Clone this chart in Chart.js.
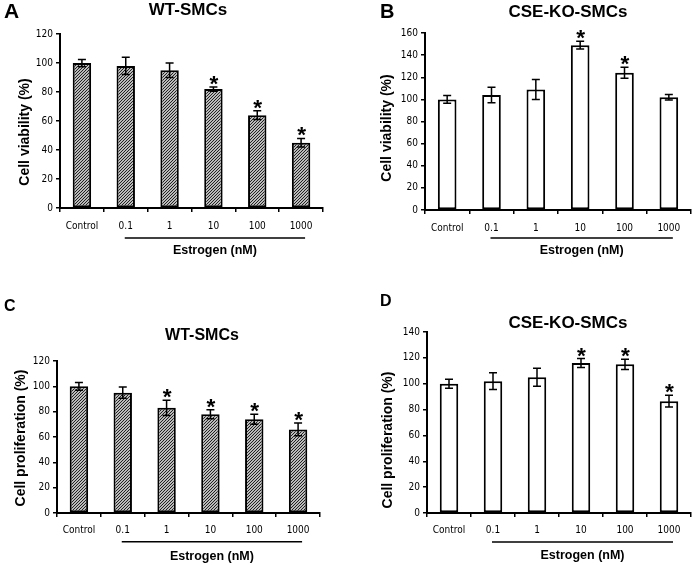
<!DOCTYPE html>
<html><head><meta charset="utf-8">
<script src="https://cdn.jsdelivr.net/npm/chart.js@4"></script>
<style>
html,body{margin:0;padding:0;background:#fff;}
#wrap{position:relative;width:696px;height:565px;overflow:hidden;background:#fff;}
canvas{position:absolute;}
</style></head><body>
<div id="wrap">
<canvas id="cA" width="348" height="280" style="left:0;top:0"></canvas>
<canvas id="cB" width="348" height="280" style="left:348px;top:0"></canvas>
<canvas id="cC" width="348" height="285" style="left:0;top:280px"></canvas>
<canvas id="cD" width="348" height="285" style="left:348px;top:280px"></canvas>
</div>
<script>
// ---- data ----
const categories = ['Control', '0.1', '1', '10', '100', '1000'];

const viabilityWT      = [100, 98, 95, 82, 64, 45];
const viabilityWTErr   = [2.5, 6, 5, 1.5, 3, 3];
const viabilityWTSig   = [false, false, false, true, true, true];

const viabilityKO      = [100, 104, 109, 149, 124, 102];
const viabilityKOErr   = [3.5, 7, 9, 3.5, 5, 2.5];
const viabilityKOSig   = [false, false, false, true, true, false];

const prolifWT         = [100, 95, 83, 78, 74, 66];
const prolifWTErr      = [3, 4.5, 6, 3.5, 4, 5];
const prolifWTSig      = [false, false, true, true, true, true];

const prolifKO         = [100, 102, 105, 116, 115, 86.5];
const prolifKOErr      = [3.5, 6.5, 7, 3.5, 4, 4.5];
const prolifKOSig      = [false, false, false, true, true, true];

const yTicksViabilityWT = [0, 20, 40, 60, 80, 100, 120];
const yTicksViabilityKO = [0, 20, 40, 60, 80, 100, 120, 140, 160];
const yTicksProlifWT    = [0, 20, 40, 60, 80, 100, 120];
const yTicksProlifKO    = [0, 20, 40, 60, 80, 100, 120, 140];

const xGroupLabel = 'Estrogen (nM)';

// ---- styling helpers ----
const BOLD = '"Liberation Sans", Arial, Helvetica, sans-serif';
const NARROW = '"Liberation Sans Narrow", "DejaVu Sans Condensed", "Arial Narrow", sans-serif';

function makeHatch() {
  const t = document.createElement('canvas');
  t.width = 3; t.height = 3;
  const c = t.getContext('2d');
  c.fillStyle = '#ffffff';
  c.fillRect(0, 0, 3, 3);
  c.strokeStyle = '#1a1a1a';
  c.lineWidth = 1.15;
  c.beginPath();
  c.moveTo(-1, 4); c.lineTo(4, -1);
  c.moveTo(-1, 1); c.lineTo(1, -1);
  c.moveTo(2, 4); c.lineTo(4, 2);
  c.stroke();
  return c.createPattern(t, 'repeat');
}
const hatch = makeHatch();

const annot = {
  id: 'annot',
  afterDraw(chart) {
    const o = chart.options.plugins.annot;
    const ctx = chart.ctx;
    const xs = chart.scales.x, ys = chart.scales.y;
    ctx.save();
    ctx.fillStyle = '#000';
    ctx.strokeStyle = '#000';
    // error bars
    ctx.lineWidth = 1.5;
    o.values.forEach((v, i) => {
      const x = xs.getPixelForValue(i);
      const yt = ys.getPixelForValue(v + o.err[i]);
      const yb = ys.getPixelForValue(v - o.err[i]);
      ctx.beginPath();
      ctx.moveTo(x, yt); ctx.lineTo(x, yb);
      ctx.moveTo(x - 4, yt); ctx.lineTo(x + 4, yt);
      ctx.moveTo(x - 4, yb); ctx.lineTo(x + 4, yb);
      ctx.stroke();
    });
    // stars
    let fs = 24;
    ctx.font = 'bold ' + fs + 'px ' + BOLD;
    let m = ctx.measureText('*');
    let h = m.actualBoundingBoxAscent + m.actualBoundingBoxDescent;
    if (h > 0) { fs = fs * 8.5 / h; }
    ctx.font = 'bold ' + fs.toFixed(1) + 'px ' + BOLD;
    m = ctx.measureText('*');
    ctx.textAlign = 'center';
    ctx.textBaseline = 'alphabetic';
    o.sig.forEach((s, i) => {
      if (!s) return;
      const x = xs.getPixelForValue(i);
      const yt = ys.getPixelForValue(o.values[i] + o.err[i]);
      const cy = yt - 6.5;
      const base = cy + (m.actualBoundingBoxAscent - m.actualBoundingBoxDescent) / 2;
      ctx.fillText('*', x + 0.5, base);
    });
    // group underline + label
    const x1 = xs.getPixelForValue(1) - 1;
    const x2 = xs.getPixelForValue(5) + 4;
    ctx.lineWidth = 1.5;
    ctx.beginPath();
    ctx.moveTo(x1, o.lineY); ctx.lineTo(x2, o.lineY);
    ctx.stroke();
    ctx.font = 'bold 12.5px ' + BOLD;
    ctx.textBaseline = 'middle';
    ctx.fillText(xGroupLabel, (x1 + x2) / 2, o.groupY);
    // title
    ctx.font = 'bold ' + o.titleSize + 'px ' + BOLD;
    ctx.textBaseline = 'alphabetic';
    ctx.fillText(o.title, o.titleX, o.titleY);
    // panel letter
    ctx.textAlign = 'left';
    ctx.font = 'bold ' + o.letterSize + 'px ' + BOLD;
    ctx.fillText(o.letter, o.letterX, o.letterY);
    // y title
    ctx.translate(o.yTitleX, o.yTitleY);
    ctx.rotate(-Math.PI / 2);
    ctx.textAlign = 'center';
    ctx.textBaseline = 'middle';
    ctx.font = 'bold 14px ' + BOLD;
    ctx.fillText(o.yTitle, 0, 0);
    ctx.restore();
  }
};

function makeChart(id, p) {
  const el = document.getElementById(id);
  const W = el.width, H = el.height;
  return new Chart(el, {
    type: 'bar',
    data: {
      labels: categories,
      datasets: [{
        data: p.values,
        backgroundColor: p.hatched ? hatch : '#ffffff',
        borderColor: '#000',
        borderWidth: 2,
        borderSkipped: false,
        barPercentage: 0.42,
        categoryPercentage: 1
      }]
    },
    options: {
      responsive: false,
      animation: false,
      devicePixelRatio: 1,
      layout: { padding: { left: 0, top: p.top, right: W - p.right, bottom: 0 } },
      plugins: {
        legend: { display: false },
        tooltip: { enabled: false },
        title: { display: false },
        annot: {
          values: p.values, err: p.err, sig: p.sig,
          lineY: p.lineY, groupY: p.groupY,
          title: p.title, titleX: p.titleX, titleY: p.titleY, titleSize: p.titleSize,
          letter: p.letter, letterX: p.letterX, letterY: p.letterY, letterSize: p.letterSize,
          yTitle: p.yTitle, yTitleX: p.yTitleX, yTitleY: p.yTitleY
        }
      },
      scales: {
        x: {
          offset: true,
          afterFit(s) { s.height = H - p.bottom; },
          grid: { display: true, drawOnChartArea: false, drawTicks: true, tickLength: 4, color: '#000', lineWidth: 1.5, offset: true },
          border: { display: true, color: '#000', width: 2 },
          ticks: { color: '#000', font: { family: NARROW, size: 10 }, padding: p.xPad, maxRotation: 0, autoSkip: false }
        },
        y: {
          min: 0,
          max: p.yTicks[p.yTicks.length - 1],
          afterFit(s) { s.width = p.left; },
          afterBuildTicks(s) { s.ticks = p.yTicks.map(v => ({ value: v })); },
          grid: { display: true, drawOnChartArea: false, drawTicks: true, tickLength: 4, color: '#000', lineWidth: 1.5 },
          border: { display: true, color: '#000', width: 2 },
          ticks: { color: '#000', font: { family: NARROW, size: 10 }, padding: 3 }
        }
      }
    },
    plugins: [annot]
  });
}

makeChart('cA', {
  values: viabilityWT, err: viabilityWTErr, sig: viabilityWTSig, yTicks: yTicksViabilityWT, hatched: true,
  left: 60, right: 323, top: 34, bottom: 208, xPad: 8,
  lineY: 238, groupY: 251,
  title: 'WT-SMCs', titleX: 188, titleY: 15, titleSize: 17,
  letter: 'A', letterX: 4, letterY: 18, letterSize: 21,
  yTitle: 'Cell viability (%)', yTitleX: 25, yTitleY: 132
});
makeChart('cB', {
  values: viabilityKO, err: viabilityKOErr, sig: viabilityKOSig, yTicks: yTicksViabilityKO, hatched: false,
  left: 77, right: 343, top: 33, bottom: 210, xPad: 8,
  lineY: 238, groupY: 251,
  title: 'CSE-KO-SMCs', titleX: 220, titleY: 17, titleSize: 17,
  letter: 'B', letterX: 32, letterY: 17.5, letterSize: 20,
  yTitle: 'Cell viability (%)', yTitleX: 39, yTitleY: 128
});
makeChart('cC', {
  values: prolifWT, err: prolifWTErr, sig: prolifWTSig, yTicks: yTicksProlifWT, hatched: true,
  left: 57, right: 320, top: 81, bottom: 233, xPad: 7.5,
  lineY: 261.7, groupY: 276.5,
  title: 'WT-SMCs', titleX: 202, titleY: 60, titleSize: 16,
  letter: 'C', letterX: 4, letterY: 31, letterSize: 16,
  yTitle: 'Cell proliferation (%)', yTitleX: 21, yTitleY: 158
});
makeChart('cD', {
  values: prolifKO, err: prolifKOErr, sig: prolifKOSig, yTicks: yTicksProlifKO, hatched: false,
  left: 79, right: 343, top: 52, bottom: 233, xPad: 7,
  lineY: 262, groupY: 276,
  title: 'CSE-KO-SMCs', titleX: 220, titleY: 48, titleSize: 17,
  letter: 'D', letterX: 32, letterY: 26, letterSize: 16,
  yTitle: 'Cell proliferation (%)', yTitleX: 40, yTitleY: 160
});
</script>
</body></html>
